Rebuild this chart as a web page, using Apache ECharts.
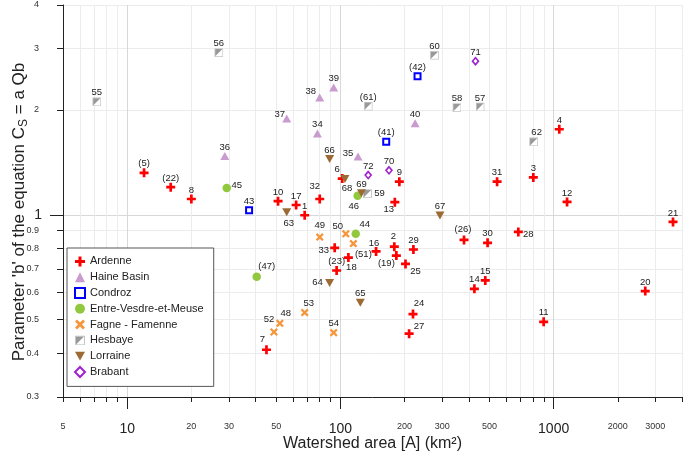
<!DOCTYPE html>
<html><head><meta charset="utf-8">
<script src="https://cdn.jsdelivr.net/npm/echarts@6/dist/echarts.min.js"></script>
<style>html,body{margin:0;padding:0;background:#fff}#c{width:685px;height:455px}</style>
</head><body><div id="c"></div>
<script>
// ---------------- DATA ----------------
const regions = ['Ardenne','Haine Basin','Condroz','Entre-Vesdre-et-Meuse','Fagne - Famenne','Hesbaye','Lorraine','Brabant'];

const ardenneIds  = ['1','2','3','4','(5)','6','7','8','9','10','11','12','13','14','15','16','17','18','(19)','20','21','(22)','(23)','24','25','(26)','27','28','29','30','31','32','33'];
const ardenneArea = [68,179,803,1063,12,102,45,20,189,51,898,1156,180,425,478,147,62,109,183,2690,3630,16,96,219,202,380,210,683,220,490,543,80,94];
const ardenneB    = [0.997,0.81,1.28,1.76,1.32,1.27,0.41,1.11,1.245,1.094,0.493,1.089,1.087,0.613,0.648,0.785,1.067,0.754,0.764,0.604,0.954,1.2,0.692,0.519,0.723,0.847,0.456,0.893,0.795,0.831,1.245,1.11,0.804];

const haineIds  = ['34','35','36','37','38','39','40'];
const haineArea = [78,121,28.7,56,80,93,224];
const haineB    = [1.71,1.47,1.475,1.89,2.17,2.32,1.83];

const condrozIds  = ['(41)','(42)','43'];
const condrozArea = [164,230,37.3];
const condrozB    = [1.62,2.5,1.03];

const evmIds  = ['44','45','46','(47)'];
const evmArea = [118,29.3,120.5,40.5];
const evmB    = [0.882,1.194,1.135,0.664];

const fagneIds  = ['48','49','50','(51)','52','53','54'];
const fagneArea = [52,80,106,115,48.8,68,93];
const fagneB    = [0.488,0.863,0.882,0.827,0.461,0.524,0.459];

const hesbayeIds  = ['55','56','57','58','59','60','(61)','62'];
const hesbayeArea = [7.2,26.9,452,352,134,276,135,806];
const hesbayeB    = [2.11,2.92,2.04,2.03,1.15,2.87,2.05,1.62];

const lorraineIds  = ['63','64','65','66','67','68','69'];
const lorraineArea = [56,89,124,89,293,105,125.5];
const lorraineB    = [1.017,0.637,0.559,1.446,0.995,1.266,1.153];

const brabantIds  = ['70','71','72'];
const brabantArea = [169,430,135];
const brabantB    = [1.342,2.76,1.30];

const xMinorTicks = [5,6,7,8,9,20,30,40,50,60,70,80,90,200,300,400,500,600,700,800,900,2000,3000,4000];
const xMajorTicks = [10,100,1000];
const xSmallLabels = [5,20,30,50,200,300,500,2000,3000];
const yMinorTicks = [0.3,0.4,0.5,0.6,0.7,0.8,0.9,2,3,4];
const yMajorTicks = [1];

// ---------------- LAYOUT (label offsets relative to marker) ----------------
const labelOffsets = {
  '1':[0,-9],'2':[-1,-10],'6':[-5,-9],'7':[-4,-10],'13':[-6,7],'16':[-2,-8],'18':[3,10],'(19)':[-10,8],
  '24':[6,-11],'25':[10,7],'(26)':[-1,-11],'27':[10,-7],'28':[10,2],'32':[-5,-13],'33':[-11,3],
  '35':[-10,-3],'37':[-7,-4],'38':[-9,-6],
  '44':[9,-9],'45':[10,-3],'46':[-4,11],'(47)':[10,-10],
  '48':[6,-10],'49':[0,-12],'50':[-8,-7],'(51)':[10,11],'52':[-5,-13],'53':[4,-9],
  '59':[12,0],'62':[3,-9],
  '63':[2,11],'64':[-12,-1],'68':[2,9]
};
const defaultOffset = [0,-9];

// ---------------- STYLE ----------------
const FONT = 'Liberation Sans, Arial, Helvetica, sans-serif';
const plusPath  = 'path://M3.5,0h3v3.5h3.5v3h-3.5v3.5h-3v-3.5h-3.5v-3h3.5z';
const crossPath = 'path://M0,2L2,0L5,3L8,0L10,2L7,5L10,8L8,10L5,7L2,10L0,8L3,5Z';
const downTriPath = 'path://M0,0L10,0L5,8.66Z';
const hesSvg = "<svg xmlns='http://www.w3.org/2000/svg' width='20' height='20' viewBox='0 0 20 20'><rect x='1' y='1' width='18' height='18' fill='#ffffff' stroke='#c4c4c4' stroke-width='2'/><polygon points='2,2 18,2 2,18' fill='#999999'/></svg>";
const hesSymbol = 'image://data:image/svg+xml;charset=utf-8,' + encodeURIComponent(hesSvg);

function mk(name, ids, xs, ys, symbol, size, itemStyle) {
  return {
    name, type:'scatter', symbol, symbolSize:size,
    itemStyle: Object.assign({opacity:1}, itemStyle),
    silent:true, animation:false,
    emphasis:{disabled:true},
    label:{show:true, position:'inside', align:'center', verticalAlign:'middle',
      formatter:'{b}', fontSize:9.5, color:'#222', fontFamily:FONT},
    data: xs.map((x,i)=>({name:ids[i], value:[x, ys[i]],
      label:{offset: labelOffsets[ids[i]] || defaultOffset}}))
  };
}

const series = [
  mk('Ardenne', ardenneIds, ardenneArea, ardenneB, plusPath, 9, {color:'#ff0000'}),
  mk('Haine Basin', haineIds, haineArea, haineB, 'triangle', [9,8], {color:'#c99bcf'}),
  mk('Condroz', condrozIds, condrozArea, condrozB, 'rect', 6, {color:'#ffffff', borderColor:'#0000ff', borderWidth:2}),
  mk('Entre-Vesdre-et-Meuse', evmIds, evmArea, evmB, 'circle', 8.5, {color:'#92c83e'}),
  mk('Fagne - Famenne', fagneIds, fagneArea, fagneB, crossPath, 8, {color:'#f7953b'}),
  mk('Hesbaye', hesbayeIds, hesbayeArea, hesbayeB, hesSymbol, 9, {color:'#aaaaaa'}),
  mk('Lorraine', lorraineIds, lorraineArea, lorraineB, downTriPath, [9,8], {color:'#9c6a35'}),
  mk('Brabant', brabantIds, brabantArea, brabantB, 'diamond', [6,7], {color:'#ffffff', borderColor:'#a020d0', borderWidth:1.6})
];

const axisCommon = {type:'log', logBase:10};
const option = {
  animation:false,
  backgroundColor:'#fff',
  textStyle:{fontFamily:FONT},
  grid:{left:63, right:3, top:5, bottom:58, containLabel:false, outerBoundsMode:'none'},
  legend:{
    orient:'vertical', left:67, top:248, backgroundColor:'#fff',
    borderColor:'#555', borderWidth:1, borderRadius:0,
    padding:[7,10,8,7], itemGap:3, itemWidth:10, itemHeight:10, itemTextGap:7,
    textStyle:{fontSize:11, color:'#222', fontFamily:FONT, lineHeight:12.8},
    selectedMode:false,
    data: regions
  },
  xAxis:[
    Object.assign({}, axisCommon, {
      min:5, max:4000, position:'bottom',
      axisLine:{show:true, lineStyle:{color:'#222', width:1}},
      axisTick:{show:true, length:5, customValues:xMinorTicks, lineStyle:{color:'#222'}},
      axisLabel:{customValues:xSmallLabels, fontSize:9, margin:25, color:'#333', fontFamily:FONT, formatter:v=>String(v)},
      splitLine:{show:true, lineStyle:{color:'#ececec', width:1}},
      name:'Watershed area [A] (km²)', nameLocation:'middle', nameGap:39, nameMoveOverlap:false,
      nameTextStyle:{fontSize:16, color:'#222', fontFamily:FONT}
    }),
    Object.assign({}, axisCommon, {
      min:5, max:4000, position:'bottom',
      axisLine:{show:false},
      axisTick:{show:true, length:12, customValues:xMajorTicks, lineStyle:{color:'#222'}},
      axisLabel:{customValues:xMajorTicks, fontSize:14, margin:25, color:'#222', fontFamily:FONT, formatter:v=>String(v)},
      splitLine:{show:true, lineStyle:{color:'#d8d8d8', width:1}}
    })
  ],
  yAxis:[
    Object.assign({}, axisCommon, {
      min:0.3, max:4, position:'left',
      axisLine:{show:true, lineStyle:{color:'#222', width:1}},
      axisTick:{show:true, length:6, customValues:yMinorTicks, lineStyle:{color:'#222'}},
      axisLabel:{customValues:yMinorTicks, fontSize:9, margin:24, color:'#333', fontFamily:FONT, formatter:v=>String(v)},
      splitLine:{show:true, lineStyle:{color:'#ececec', width:1}},
      name:"{a|Parameter 'b' of the equation C}{s|S}{a| = a Qb}",
      nameLocation:'middle', nameGap:33, nameMoveOverlap:false,
      nameTextStyle:{fontSize:17, color:'#222', fontFamily:FONT, padding:[0,22,0,0],
        rich:{a:{fontSize:17, color:'#222', fontFamily:FONT, lineHeight:19, verticalAlign:'top'},
              s:{fontSize:12, color:'#222', fontFamily:FONT, lineHeight:12, verticalAlign:'top', padding:[7,0,0,0]}}}
    }),
    Object.assign({}, axisCommon, {
      min:0.3, max:4, position:'left',
      axisLine:{show:false},
      axisTick:{show:true, length:13, customValues:yMajorTicks, lineStyle:{color:'#222'}},
      axisLabel:{customValues:yMajorTicks, fontSize:14, margin:21, color:'#222', fontFamily:FONT, formatter:v=>String(v)},
      splitLine:{show:true, lineStyle:{color:'#d8d8d8', width:1}}
    })
  ],
  series: series
};

const chart = echarts.init(document.getElementById('c'), null, {renderer:'canvas'});
chart.setOption(option);
</script>
</body></html>
